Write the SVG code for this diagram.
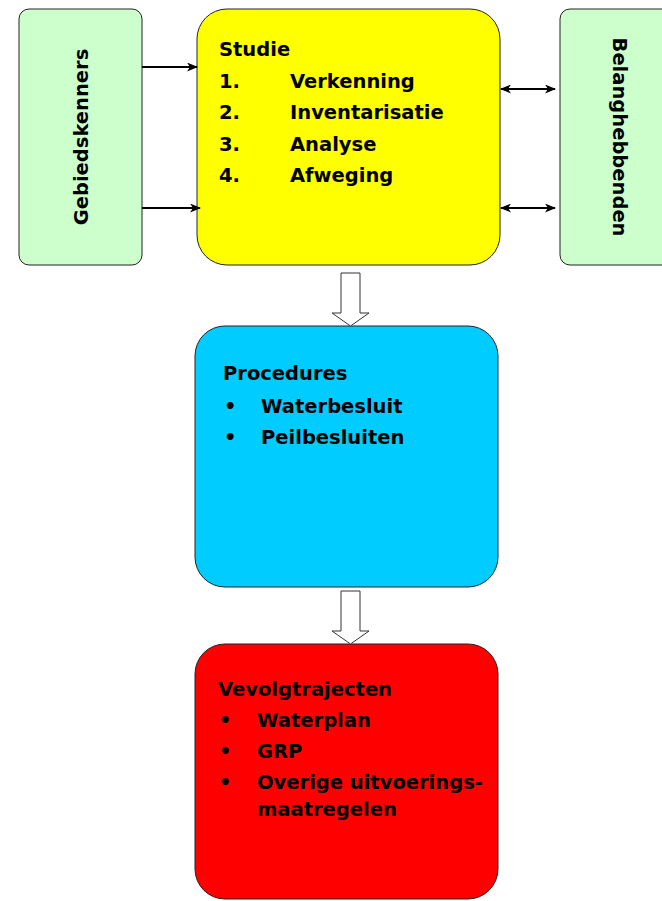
<svg xmlns="http://www.w3.org/2000/svg" width="662" height="901" viewBox="0 0 662 901">
<style>
.box{stroke:#222;stroke-width:1}
.t{font-family:"DejaVu Sans",Verdana,sans-serif;font-weight:bold;font-size:19.5px;fill:#000}
.c{stroke:#000;stroke-width:2;fill:none}
.h{fill:#fff;stroke:#333;stroke-width:1}
</style>
<defs>
<marker id="ah" markerWidth="11" markerHeight="9" refX="10" refY="4.5" orient="auto-start-reverse" markerUnits="userSpaceOnUse"><path d="M0,0 L11,4.5 L0,9 L3,4.5 Z" fill="#000"/></marker>
</defs>
<g id="gebiedskenners">
<rect class="box" x="19" y="9" width="123" height="256" rx="10" fill="#CCFFCC"/>
<text class="t" transform="translate(88,137) rotate(-90)" text-anchor="middle">Gebiedskenners</text>
</g>
<g id="studie">
<rect class="box" x="197" y="9" width="303" height="256" rx="30" fill="#FFFF00"/>
<text class="t" x="219" y="56">Studie</text>
<text class="t" x="219" y="88">1.</text><text class="t" x="290" y="88">Verkenning</text>
<text class="t" x="219" y="119">2.</text><text class="t" x="290" y="119">Inventarisatie</text>
<text class="t" x="219" y="151">3.</text><text class="t" x="290" y="151">Analyse</text>
<text class="t" x="219" y="182">4.</text><text class="t" x="290" y="182">Afweging</text>
</g>
<g id="belanghebbenden">
<rect class="box" x="560" y="9" width="120" height="256" rx="10" fill="#CCFFCC"/>
<text class="t" transform="translate(613,137) rotate(90)" text-anchor="middle">Belanghebbenden</text>
</g>
<g id="procedures">
<rect class="box" x="195" y="326" width="303" height="261" rx="30" fill="#00CCFF"/>
<text class="t" x="223" y="380">Procedures</text>
<text class="t" x="224" y="413">•</text><text class="t" x="261" y="413">Waterbesluit</text>
<text class="t" x="224" y="444">•</text><text class="t" x="261" y="444">Peilbesluiten</text>
</g>
<g id="vervolgtrajecten">
<rect class="box" x="195" y="644" width="303" height="255" rx="30" fill="#FF0000"/>
<text class="t" x="218" y="696">Vevolgtrajecten</text>
<text class="t" x="219" y="727">•</text><text class="t" x="257" y="727">Waterplan</text>
<text class="t" x="219" y="758">•</text><text class="t" x="257" y="758">GRP</text>
<text class="t" x="219" y="789">•</text><text class="t" x="257" y="789">Overige uitvoerings-</text>
<text class="t" x="257" y="816">maatregelen</text>
</g>
<g id="connectors">
<line class="c" x1="142" y1="67" x2="197" y2="67" marker-end="url(#ah)"/>
<line class="c" x1="142" y1="208" x2="200" y2="208" marker-end="url(#ah)"/>
<line class="c" x1="501" y1="89" x2="555" y2="89" marker-start="url(#ah)" marker-end="url(#ah)"/>
<line class="c" x1="501" y1="208" x2="555" y2="208" marker-start="url(#ah)" marker-end="url(#ah)"/>
<path class="h" d="M341,273 L360,273 L360,313 L369,313 L350.5,326 L332,313 L341,313 Z"/>
<path class="h" d="M341,591 L360,591 L360,631 L369,631 L350.5,644 L332,631 L341,631 Z"/>
</g>
</svg>
